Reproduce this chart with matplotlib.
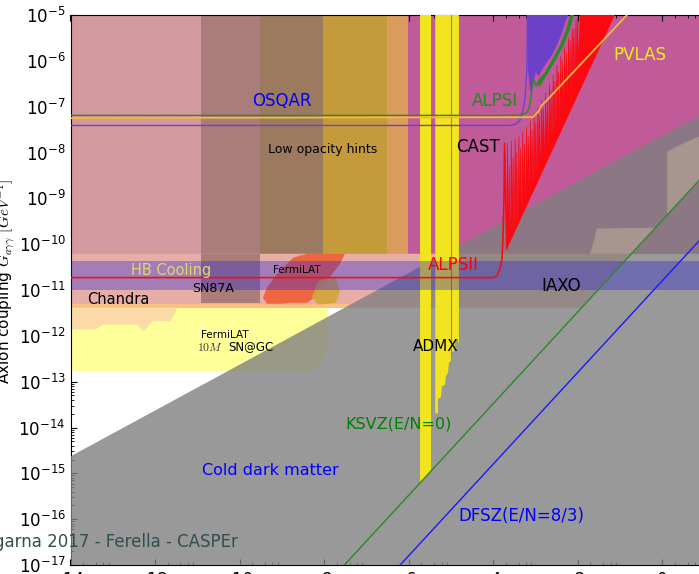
import numpy as np
import matplotlib
matplotlib.use("Agg")
import matplotlib.pyplot as plt
from matplotlib.ticker import FixedLocator, LogLocator, LogFormatterSciNotation, NullFormatter

plt.rcParams['mathtext.fontset'] = 'cm'
plt.rcParams['font.family'] = 'DejaVu Sans'
plt.rcParams['axes.unicode_minus'] = False

# x values: log10(m_a / eV), y values: log10(g_agg / GeV^-1)
x_lo, x_hi = -14.0, 0.87
y_lo, y_hi = -17.0, -5.0

# helioscope (CAST) region
cast_bottom = -10.21

# vertical bands in the upper left
col_edges = [-14.0, -10.91, -9.52, -8.03, -6.51, -6.02]
col_colors = ['#d4999e', '#aa7d7a', '#9c7a60', '#c49a3a', '#da9d5e']
sn87a_x = [-10.91, -9.52]
sn87a_bottom = -11.28

# astrophysics bands
strip_top, strip_bottom = -10.21, -11.39
orange_x = [-14.0, -7.4]
orange_top, orange_bottom = -11.30, -11.39
yel_x = [-14.0, -8.3, -8.05, -7.9, -7.9, -14.0]
yel_y = [-12.77, -12.77, -12.62, -12.3, -11.39, -11.39]
chandra_x = [-14.0, -13.42, -13.23, -12.43, -12.28, -12.07, -11.65, -11.48]
chandra_y = [-11.85, -11.85, -11.74, -11.74, -11.89, -11.67, -11.67, -11.39]
hb_top, hb_bottom = -10.36, -11.0

# FermiLAT blobs
fermi_x = [-8.571, -8.263, -8.027, -7.506, -7.625, -7.932, -8.098, -8.263, -8.405,
           -8.807, -9.044, -9.352, -9.446, -9.352, -9.115, -8.878, -8.736]
fermi_y = [-10.25, -10.19, -10.21, -10.21, -10.43, -10.80, -10.95, -11.19, -11.28,
           -11.28, -11.30, -11.30, -11.17, -10.95, -10.65, -10.43, -10.30]
gold_x = [-8.14, -7.74, -7.63, -7.72, -8.14, -8.29]
gold_y = [-10.80, -10.71, -11.02, -11.28, -11.32, -11.15]

# cold dark matter edge and QCD axion lines
cdm_x = [-14.0, 0.87]
cdm_y = [-14.63, -7.195]
ksvz_x = [-7.52, 0.87]
ksvz_y = [-17.0, -8.61]
dfsz_x = [-6.2, 0.87]
dfsz_y = [-17.0, -9.93]

# telescope region above the KSVZ line
telA_x = [-1.71, -1.62, -1.55, -0.16, -0.73]
telA_y = [-10.21, -9.95, -9.66, -9.64, -10.21]
telB_x = [0.12, 0.5, 0.87, 0.87, 0.12]
telB_y = [-7.98, -7.80, -7.65, -8.61, -9.36]

# ADMX
admx1_x = [-5.73, -5.47, -5.47, -5.73]
admx1_y = [-15.21, -14.95, -5.0, -5.0]
admx2_x = [-5.37, -4.81, -4.81, -4.833, -4.904, -4.927, -5.0, -5.0, -5.046, -5.07,
           -5.117, -5.14, -5.211, -5.235, -5.306, -5.306, -5.37]
admx2_y = [-5.0, -5.0, -12.22, -12.07, -12.11, -12.33, -12.37, -12.55, -12.59, -12.81,
           -12.88, -13.07, -13.10, -13.34, -13.38, -13.69, -13.69]

# ALPS II line and the oscillating red region
alps2_x = [-14.0, -4.0, -3.91, -3.84, -3.79, -3.77, -3.745, -3.73, -3.70, -3.68]
alps2_y = [-10.73, -10.73, -10.69, -10.54, -10.32, -9.92, -9.05, -7.80, -9.0, -10.10]
spike_x = [-3.66, -3.62, -3.57, -3.53, -3.48, -3.44, -3.39, -3.35, -3.30, -3.26,
           -3.21, -3.17, -3.12, -3.08, -3.03, -2.99, -2.94, -2.90, -2.85, -2.81,
           -2.76, -2.72, -2.67, -2.63, -2.58, -2.54, -2.49, -2.45, -2.40, -2.36,
           -2.31, -2.27, -2.22, -2.18, -2.13, -2.09, -2.04, -2.00]
spike_top = [-7.80, -8.30, -7.75, -8.10, -7.70, -8.00, -7.65, -7.90, -7.55, -7.80,
             -7.45, -7.65, -7.30, -7.50, -7.15, -7.35, -7.00, -7.20, -6.85, -7.05,
             -6.70, -6.85, -6.50, -6.65, -6.30, -6.45, -6.10, -6.25, -5.90, -6.00,
             -5.70, -5.80, -5.50, -5.55, -5.30, -5.30, -5.10, -5.05]
spike_base = [-10.01, -9.92, -9.80, -9.71, -9.59, -9.50, -9.39, -9.29, -9.18, -9.08,
              -8.97, -8.88, -8.76, -8.67, -8.55, -8.46, -8.34, -8.25, -8.13, -8.04,
              -7.92, -7.83, -7.72, -7.62, -7.51, -7.41, -7.30, -7.21, -7.09, -7.00,
              -6.88, -6.79, -6.67, -6.58, -6.46, -6.37, -6.25, -6.16]
red_right_x = [-1.13, -3.68]
red_right_y = [-5.0, -10.10]

# OSQAR
osq_x = [-14.0, -3.60, -3.53, -3.45, -3.37, -3.30, -3.25, -3.20, -3.19]
osq_y = [-7.41, -7.41, -7.40, -7.37, -7.30, -7.08, -6.86, -6.14, -5.0]
purp_x = [-3.200, -3.177, -3.129, -3.082, -3.035, -2.987, -2.940, -2.893, -2.822,
          -2.727, -2.609, -2.491, -2.373, -2.231]
purp_y = [-5.0, -6.20, -6.64, -6.68, -6.42, -6.25, -6.33, -6.29, -6.16, -6.03,
          -5.88, -5.66, -5.39, -5.0]

# ALPS I
alps1_x = [-14.0, -3.37, -3.22, -3.15, -3.11, -3.08, -3.035, -2.987, -2.94]
alps1_y = [-7.19, -7.19, -7.14, -7.04, -6.82, -6.53, -6.42, -6.55, -6.47]
gb_x = [-2.940, -2.774, -2.609, -2.420, -2.278, -2.183, -2.09, -2.19, -2.33,
        -2.52, -2.69, -2.86, -2.92]
gb_y = [-6.42, -6.25, -5.98, -5.66, -5.33, -5.0, -5.0, -5.33, -5.66,
        -5.98, -6.25, -6.50, -6.58]

# PVLAS
pv_x = [-14.0, -3.06, -2.94, -2.85, -2.77, -0.835]
pv_y = [-7.25, -7.23, -7.12, -6.97, -6.90, -5.0]


def G(v):
    return 10.0 ** np.asarray(v, dtype=float)


fig = plt.figure(figsize=(6.99, 5.74), dpi=100)
ax = fig.add_axes([70.5 / 699, 9 / 574, 628.5 / 699, 550 / 574])
ax.set_yscale('log')

# CAST
ax.fill_between([x_lo, x_hi], G(cast_bottom), G(y_hi), color='#c05a98', lw=0, zorder=1)

# upper left columns
for i in range(len(col_colors)):
    ax.fill_between(col_edges[i:i + 2], G(cast_bottom), G(y_hi), color=col_colors[i], lw=0, zorder=2)

# astrophysical bands
ax.fill([x_lo, ksvz_x[0] + (strip_bottom - ksvz_y[0]), ksvz_x[0] + (strip_top - ksvz_y[0]), x_lo],
        G([strip_bottom, strip_bottom, strip_top, strip_top]), color='#e6aea6', lw=0, zorder=2)
ax.fill(yel_x, G(yel_y), color='#ffff99', lw=0, zorder=2)
ax.fill_between(orange_x, G(orange_bottom), G(orange_top), color='#fcc080', lw=0, zorder=2.1)
ax.fill_between(chandra_x, G(chandra_y), G(-11.39), color='#fcdaa8', lw=0, zorder=2.1)
ax.fill_between(sn87a_x, G(sn87a_bottom), G(cast_bottom), color='#aa7d7a', lw=0, zorder=2.2)

ax.fill(fermi_x, G(fermi_y), color='#f05a2d', alpha=0.85, lw=0, zorder=2.3)
ax.fill(gold_x, G(gold_y), color='#d4a43a', alpha=0.9, lw=0, zorder=2.4)

# cold dark matter
ax.fill([cdm_x[0], cdm_x[1], x_hi, x_lo], G([cdm_y[0], cdm_y[1], y_lo, y_lo]),
        color='#808080', alpha=0.8, lw=0, zorder=3)

# telescopes
ax.fill(telA_x, G(telA_y), color='#a89590', lw=0, zorder=3.1)
ax.fill(telB_x, G(telB_y), color='#a89590', lw=0, zorder=3.1)

# ADMX
ax.fill(admx1_x, G(admx1_y), color='#f2e41e', lw=0, zorder=4)
ax.fill(admx2_x, G(admx2_y), color='#f2e41e', lw=0, zorder=4)
ax.plot([-5.0, -5.0], G([y_hi, -12.4]), color='#a0789a', lw=0.8, zorder=4.1)

# red oscillating region
rx = [red_right_x[1]]
ry = [red_right_y[1]]
for sx, st, sb in zip(spike_x, spike_top, spike_base):
    rx += [sx - 0.017, sx, sx + 0.017]
    ry += [sb, st, sb]
rx += [spike_x[-1] + 0.06, red_right_x[0]]
ry += [y_hi, y_hi]
ax.fill(rx, G(ry), color='#fa0a10', lw=0.5, ec='#fa0a10', zorder=4)

ax.fill(purp_x, G(purp_y), color='#6e40c8', lw=0, zorder=4)
ax.fill(gb_x, G(gb_y), color='#2a8a2a', lw=0, zorder=4.1)

# HB band
ax.fill_between([x_lo, x_hi], G(hb_bottom), G(hb_top), color=(0.16, 0.12, 0.86), alpha=0.35, lw=0, zorder=5)

# lines
ax.plot(alps2_x, G(alps2_y), color='#f01010', lw=1.2, zorder=6)
ax.plot(osq_x, G(osq_y), color='#6a44d0', lw=1.0, zorder=6)
ax.plot(alps1_x, G(alps1_y), color='#2a8a2a', lw=1.0, zorder=6)
ax.plot(pv_x, G(pv_y), color='#f2b838', lw=1.3, zorder=6)
ax.plot(ksvz_x, G(ksvz_y), color='#2a8a2a', lw=1.0, zorder=6)
ax.plot(dfsz_x, G(dfsz_y), color='#1a1aff', lw=1.0, zorder=6)


# labels
def label(x, y, s, c, fs):
    ax.text(x, 10.0 ** y, s, color=c, fontsize=fs, ha='center', va='center', zorder=7)


label(-9.00, -6.88, 'OSQAR', '#0000ff', 12)
label(-3.96, -6.88, 'ALPSI', '#1e8c1e', 12)
label(-4.36, -7.89, 'CAST', 'black', 12)
label(-0.53, -5.875, 'PVLAS', '#f2ee10', 12)
label(-8.03, -7.93, 'Low opacity hints', 'black', 9)
label(-11.62, -10.58, 'HB Cooling', '#dcd86e', 10.5)
label(-8.65, -10.56, 'FermiLAT', 'black', 7.5)
label(-4.95, -10.45, 'ALPSII', '#ff0000', 12)
label(-2.40, -10.91, 'IAXO', 'black', 12)
label(-12.88, -11.21, 'Chandra', 'black', 10.5)
label(-10.63, -10.97, 'SN87A', 'black', 9)
label(-10.36, -11.98, 'FermiLAT', 'black', 7.5)
label(-10.70, -12.25, '$10M$', '#333333', 8.5)
label(-9.73, -12.24, 'SN@GC', 'black', 8.5)
label(-5.35, -12.24, 'ADMX', 'black', 11)
label(-6.25, -13.93, 'KSVZ(E/N=0)', 'green', 11.5)
label(-9.28, -14.93, 'Cold dark matter', '#0000ff', 11.5)
label(-3.34, -15.94, 'DFSZ(E/N=8/3)', '#0000ff', 12)
ax.text(-15.82, 10.0 ** -16.49, 'garna 2017 - Ferella - CASPEr', color='#2f4f4f',
        fontsize=12, ha='left', va='center', clip_on=False, zorder=8)

# axes
ax.set_xlim(x_lo, x_hi)
ax.set_ylim(G(y_lo), G(y_hi))
ax.xaxis.set_major_locator(FixedLocator(list(range(-14, 1, 2))))
ax.xaxis.set_minor_locator(FixedLocator([m + d for m in range(-14, 1, 2)
                                         for d in (0.301, 0.602, 0.778, 0.903) if m + d < x_hi]))
ax.yaxis.set_major_locator(LogLocator(base=10, numticks=20))
ax.yaxis.set_major_formatter(LogFormatterSciNotation())
ax.yaxis.set_minor_locator(LogLocator(base=10, subs=np.arange(2, 10), numticks=20))
ax.yaxis.set_minor_formatter(NullFormatter())
ax.tick_params(which='both', direction='in', top=True, right=False, labelsize=12)
ax.tick_params(which='major', length=4)
ax.tick_params(which='minor', length=2)
ax.tick_params(axis='x', pad=4.5)
ax.spines['right'].set_visible(False)
ax.set_ylabel(r'Axion coupling $G_{a\gamma\gamma}$ $[GeV^{-1}]$', fontsize=11)
ax.yaxis.set_label_coords(-0.085, 0.515)

fig.savefig('out.png', dpi=100)
